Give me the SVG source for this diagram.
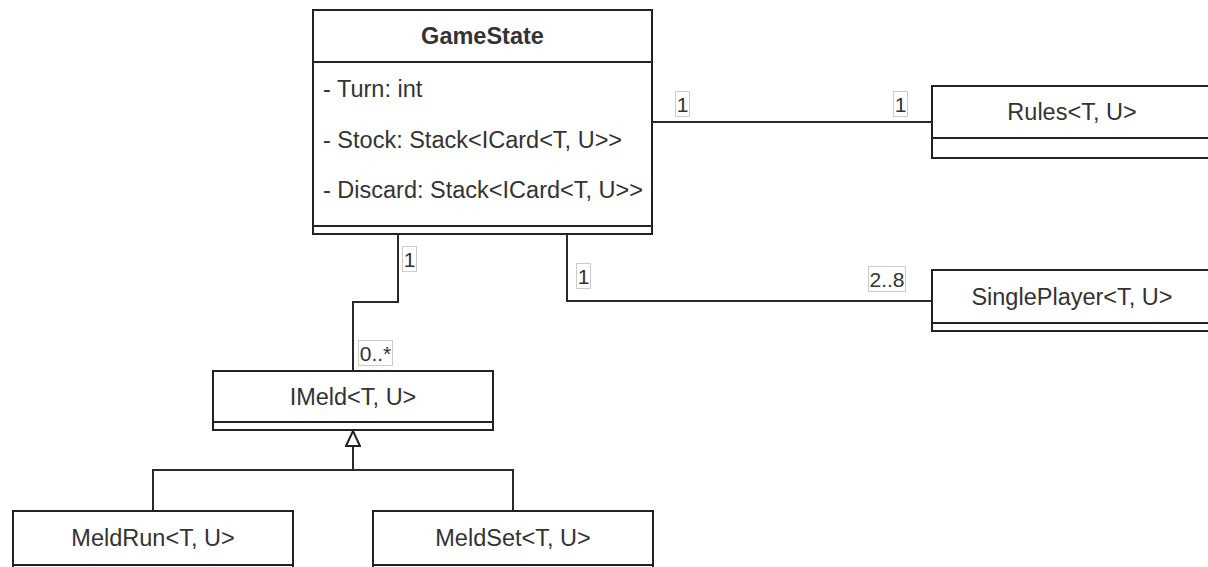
<svg xmlns="http://www.w3.org/2000/svg" width="1208" height="567" viewBox="0 0 1208 567">
  <style>
    .box { fill: #ffffff; stroke: #222222; stroke-width: 2; }
    .sep { stroke: #222222; stroke-width: 2; fill: none; }
    .edge { stroke: #2a2a2a; stroke-width: 2; fill: none; }
    .title { font-family: "Liberation Sans", Arial, sans-serif; font-size: 23.5px; fill: #333333; text-anchor: middle; }
    .bold { font-weight: bold; }
    .attr { font-family: "Liberation Sans", Arial, sans-serif; font-size: 23.5px; fill: #333333; }
    .lblbox { fill: #ffffff; stroke: #cccccc; stroke-width: 1; }
    .lbl { font-family: "Liberation Sans", Arial, sans-serif; font-size: 21px; fill: #333333; text-anchor: middle; }
  </style>
  <defs>
    <marker id="inherit" viewBox="0 0 16 16" refX="16" refY="8" markerWidth="16" markerHeight="16" markerUnits="userSpaceOnUse" orient="auto">
      <path d="M1,1 L16,8 L1,15 Z" fill="#ffffff" stroke="#222222" stroke-width="2" stroke-linejoin="miter"/>
    </marker>
  </defs>
  <rect width="1208" height="567" fill="#ffffff"/>

  <!-- connectors -->
  <g id="connectors">
    <!-- GameState to Rules -->
    <path class="edge" d="M652,122 H932"/>
    <!-- GameState to SinglePlayer -->
    <path class="edge" d="M567,234 V301 H932"/>
    <!-- GameState to IMeld -->
    <path class="edge" d="M398,234 V302 H353 V371"/>
    <!-- generalization: MeldRun / MeldSet to IMeld -->
    <path class="edge" d="M153,511 V470 H513 V511"/>
    <path class="edge" d="M353,470 V431" marker-end="url(#inherit)"/>

    <!-- multiplicities -->
    <rect class="lblbox" x="675.5" y="91.5" width="14" height="25"/>
    <text class="lbl" x="682.5" y="112">1</text>
    <rect class="lblbox" x="893.5" y="91.5" width="14" height="25"/>
    <text class="lbl" x="900.5" y="112">1</text>

    <rect class="lblbox" x="576.5" y="263.5" width="14" height="25"/>
    <text class="lbl" x="583.5" y="284">1</text>
    <rect class="lblbox" x="868.5" y="266.5" width="37" height="25"/>
    <text class="lbl" x="887" y="287">2..8</text>

    <rect class="lblbox" x="402.5" y="246.5" width="14" height="25"/>
    <text class="lbl" x="409.5" y="267">1</text>
    <rect class="lblbox" x="358.5" y="340.5" width="34" height="25"/>
    <text class="lbl" x="375.5" y="361">0..*</text>
  </g>

  <!-- GameState class -->
  <g id="GameState">
    <rect class="box" x="313" y="10" width="339" height="224"/>
    <line class="sep" x1="313" y1="62" x2="652" y2="62"/>
    <line class="sep" x1="313" y1="226" x2="652" y2="226"/>
    <text class="title bold" x="482.5" y="44">GameState</text>
    <text class="attr" x="323" y="97">- Turn: int</text>
    <text class="attr" x="323" y="148">- Stock: Stack&lt;ICard&lt;T, U&gt;&gt;</text>
    <text class="attr" x="323" y="198">- Discard: Stack&lt;ICard&lt;T, U&gt;&gt;</text>
  </g>

  <!-- Rules class -->
  <g id="Rules">
    <rect class="box" x="932" y="86" width="280" height="72"/>
    <line class="sep" x1="932" y1="138" x2="1212" y2="138"/>
    <text class="title" x="1072" y="120">Rules&lt;T, U&gt;</text>
  </g>

  <!-- SinglePlayer class -->
  <g id="SinglePlayer">
    <rect class="box" x="932" y="270" width="280" height="61"/>
    <line class="sep" x1="932" y1="323" x2="1212" y2="323"/>
    <text class="title" x="1072" y="305">SinglePlayer&lt;T, U&gt;</text>
  </g>

  <!-- IMeld interface -->
  <g id="IMeld">
    <rect class="box" x="213" y="371" width="280" height="59"/>
    <line class="sep" x1="213" y1="422" x2="493" y2="422"/>
    <text class="title" x="353" y="405">IMeld&lt;T, U&gt;</text>
  </g>

  <!-- MeldRun class -->
  <g id="MeldRun">
    <rect class="box" x="13" y="511" width="280" height="70"/>
    <line class="sep" x1="13" y1="565" x2="293" y2="565"/>
    <text class="title" x="153" y="546">MeldRun&lt;T, U&gt;</text>
  </g>

  <!-- MeldSet class -->
  <g id="MeldSet">
    <rect class="box" x="373" y="511" width="280" height="70"/>
    <line class="sep" x1="373" y1="565" x2="653" y2="565"/>
    <text class="title" x="513" y="546">MeldSet&lt;T, U&gt;</text>
  </g>
</svg>
